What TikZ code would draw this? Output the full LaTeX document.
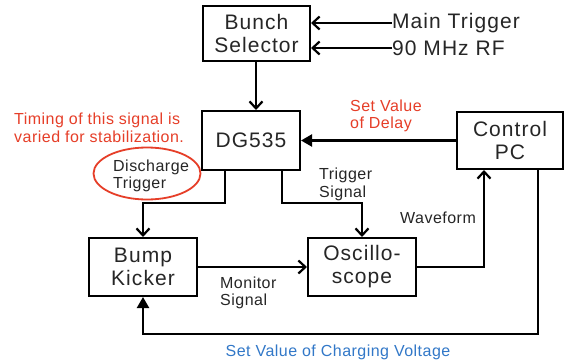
\documentclass[tikz,border=0pt]{standalone}
\usepackage{fontspec}
\setmainfont{Liberation Sans}
\newfontfamily\bigf[LetterSpace=5]{Liberation Sans}
\newfontfamily\smf[LetterSpace=3]{Liberation Sans}
\usetikzlibrary{arrows.meta}
\definecolor{myred}{RGB}{230,62,40}
\definecolor{myblue}{RGB}{50,120,200}
\tikzset{
  box/.style={draw, line width=2pt, inner sep=0pt, align=center, text=black!85,
    font=\bigf\fontsize{21}{23}\selectfont},
  big/.style={inner sep=0pt, text=black!85, font=\bigf\fontsize{21}{23}\selectfont},
  lbl/.style={inner sep=0pt, align=left, text=black!85, font=\smf\fontsize{16}{17.5}\selectfont},
  wire/.style={line width=2.2pt, line join=miter},
  ar/.style={wire, -{Straight Barb[length=7pt,width=13pt,line width=2.2pt]}},
  tri/.style={wire, -{Triangle[length=11pt,width=12pt]}}
}
\begin{document}
\begin{tikzpicture}[x=1pt,y=-1pt]
\fill[white] (0,0) rectangle (565,362);
\useasboundingbox (0,0) rectangle (565,362);
% boxes
\node[box, minimum width=107pt, minimum height=55pt] (bs) at (256.5,33.5) {Bunch\\Selector};
\node[box, minimum width=98pt, minimum height=59pt] (dg) at (251,140.5) {DG535};
\node[box, minimum width=106pt, minimum height=57pt] (pc) at (510,140.5) {Control\\PC};
\node[box, minimum width=108pt, minimum height=58pt] (bk) at (143,267) {Bump\\Kicker};
\node[box, minimum width=108pt, minimum height=58pt] (os) at (362,267) {Oscillo-\\scope};
% inputs
\node[big, anchor=west] (mt) at (392,23) {Main Trigger};
\node[big, anchor=west] (rf) at (392,48) {90 MHz RF};
\draw[ar] (mt.west) -- (mt.west -| bs.east);
\draw[ar] (rf.west) -- (rf.west -| bs.east);
\draw[ar] (bs.south -| 256,0) -- (dg.north -| 256,0);
% labels
\node[lbl, anchor=west, text=myred] (tm) at (14,128) {Timing of this signal is\\varied for stabilization.};
\node[lbl, anchor=west] (dt) at (113,176) {Discharge\\Trigger};
\draw[myred, line width=1.8pt] (147,173.5) ellipse [x radius=53.5, y radius=26];
\node[lbl, anchor=west] (ts) at (319,184.5) {Trigger\\Signal};
\node[lbl, anchor=west, text=myred] (sd) at (350,116) {Set Value\\of Delay};
\node[lbl, anchor=west] (wf) at (400,218) {Waveform};
\node[lbl, anchor=west] (ms) at (220,293) {Monitor\\Signal};
\node[lbl, text=myblue] (cv) at (338,352) {Set Value of Charging Voltage};
% connectors
\coordinate (k1) at (225,203);
\coordinate (k2) at (282,203);
\coordinate (w1) at (484,0);
\coordinate (c1) at (538,334);
\draw[ar] (k1 |- dg.south) -- (k1) -| (bk.north);
\draw[ar] (k2 |- dg.south) -- (k2) -| (os.north);
\draw[ar] (bk.east) -- (os.west);
\draw[ar] (os.east) -| (w1 |- pc.south);
\draw[tri] (pc.west) -- (dg.east);
\draw[tri] (c1 |- pc.south) -- (c1) -| (bk.south);
\end{tikzpicture}
\end{document}
